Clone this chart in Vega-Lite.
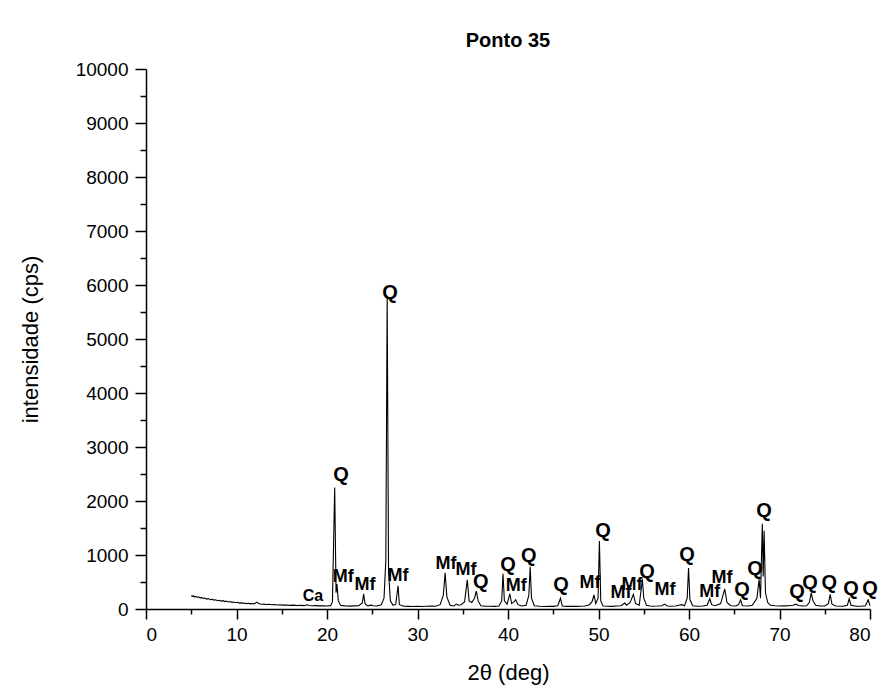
{
  "$schema": "https://vega.github.io/schema/vega-lite/v6.json",
  "autosize": {"type": "none"},
  "width": 724,
  "height": 540,
  "padding": {"left": 146, "top": 69, "right": 15, "bottom": 85},
  "background": "white",
  "title": {"text": "Ponto 35", "fontSize": 20, "fontWeight": "bold", "font": "Liberation Sans", "color": "black", "anchor": "middle", "offset": 9},
  "config": {
    "view": {"stroke": null},
    "font": "Liberation Sans",
    "axis": {"grid": false, "domainColor": "black", "tickColor": "black", "labelColor": "black", "titleColor": "black", "labelFont": "Liberation Sans", "titleFont": "Liberation Sans", "domainWidth": 1.5, "tickWidth": 1.5}
  },
  "resolve": {"axis": {"x": "independent", "y": "independent"}},
  "layer": [
    {
      "data": {"values": [
        {"theta": 5.0, "cps": 250}, {"theta": 5.1, "cps": 232}, {"theta": 5.2, "cps": 246}, {"theta": 5.35, "cps": 226}, {"theta": 5.5, "cps": 234}, {"theta": 5.65, "cps": 216}, {"theta": 5.8, "cps": 226}, {"theta": 6.0, "cps": 203}, {"theta": 6.15, "cps": 214}, {"theta": 6.3, "cps": 194},
        {"theta": 6.5, "cps": 202}, {"theta": 6.7, "cps": 184}, {"theta": 6.9, "cps": 192}, {"theta": 7.1, "cps": 173}, {"theta": 7.3, "cps": 182}, {"theta": 7.5, "cps": 164}, {"theta": 7.7, "cps": 172}, {"theta": 7.9, "cps": 154}, {"theta": 8.1, "cps": 162}, {"theta": 8.3, "cps": 146},
        {"theta": 8.5, "cps": 154}, {"theta": 8.7, "cps": 138}, {"theta": 8.9, "cps": 146}, {"theta": 9.1, "cps": 130}, {"theta": 9.3, "cps": 138}, {"theta": 9.5, "cps": 123}, {"theta": 9.7, "cps": 130}, {"theta": 9.9, "cps": 116}, {"theta": 10.1, "cps": 124}, {"theta": 10.3, "cps": 110},
        {"theta": 10.5, "cps": 118}, {"theta": 10.7, "cps": 104}, {"theta": 10.9, "cps": 111}, {"theta": 11.1, "cps": 99}, {"theta": 11.3, "cps": 106}, {"theta": 11.5, "cps": 95}, {"theta": 11.7, "cps": 101}, {"theta": 11.9, "cps": 96}, {"theta": 12.1, "cps": 112}, {"theta": 12.25, "cps": 128},
        {"theta": 12.4, "cps": 106}, {"theta": 12.6, "cps": 92}, {"theta": 12.8, "cps": 88}, {"theta": 13.0, "cps": 91}, {"theta": 13.3, "cps": 83}, {"theta": 13.6, "cps": 87}, {"theta": 13.9, "cps": 79}, {"theta": 14.2, "cps": 83}, {"theta": 14.5, "cps": 75}, {"theta": 14.8, "cps": 79},
        {"theta": 15.1, "cps": 71}, {"theta": 15.5, "cps": 75}, {"theta": 15.9, "cps": 67}, {"theta": 16.3, "cps": 71}, {"theta": 16.7, "cps": 64}, {"theta": 17.1, "cps": 67}, {"theta": 17.5, "cps": 62}, {"theta": 17.8, "cps": 78}, {"theta": 18.0, "cps": 64}, {"theta": 18.4, "cps": 60},
        {"theta": 18.8, "cps": 62}, {"theta": 19.2, "cps": 57}, {"theta": 19.6, "cps": 60}, {"theta": 20.0, "cps": 56}, {"theta": 20.4, "cps": 62}, {"theta": 20.6, "cps": 130}, {"theta": 20.85, "cps": 2250}, {"theta": 21.0, "cps": 300}, {"theta": 21.1, "cps": 460}, {"theta": 21.25, "cps": 150},
        {"theta": 21.5, "cps": 70}, {"theta": 22.0, "cps": 58}, {"theta": 22.5, "cps": 54}, {"theta": 23.0, "cps": 57}, {"theta": 23.5, "cps": 60}, {"theta": 23.9, "cps": 110}, {"theta": 24.05, "cps": 280}, {"theta": 24.2, "cps": 100}, {"theta": 24.5, "cps": 58}, {"theta": 24.9, "cps": 72},
        {"theta": 25.1, "cps": 60}, {"theta": 25.5, "cps": 56}, {"theta": 26.0, "cps": 80}, {"theta": 26.3, "cps": 200}, {"theta": 26.5, "cps": 900}, {"theta": 26.65, "cps": 5800}, {"theta": 26.8, "cps": 700}, {"theta": 27.0, "cps": 150}, {"theta": 27.3, "cps": 70}, {"theta": 27.6, "cps": 90},
        {"theta": 27.85, "cps": 430}, {"theta": 28.0, "cps": 80}, {"theta": 28.5, "cps": 52}, {"theta": 29.0, "cps": 49}, {"theta": 29.5, "cps": 47}, {"theta": 30.0, "cps": 52}, {"theta": 30.5, "cps": 47}, {"theta": 31.0, "cps": 50}, {"theta": 31.5, "cps": 53}, {"theta": 32.0, "cps": 50},
        {"theta": 32.5, "cps": 80}, {"theta": 32.85, "cps": 250}, {"theta": 33.05, "cps": 670}, {"theta": 33.25, "cps": 220}, {"theta": 33.6, "cps": 70}, {"theta": 34.0, "cps": 55}, {"theta": 34.3, "cps": 90}, {"theta": 34.5, "cps": 70}, {"theta": 34.8, "cps": 80}, {"theta": 35.2, "cps": 130},
        {"theta": 35.5, "cps": 540}, {"theta": 35.7, "cps": 150}, {"theta": 36.0, "cps": 120}, {"theta": 36.3, "cps": 200}, {"theta": 36.5, "cps": 330}, {"theta": 36.7, "cps": 150}, {"theta": 37.0, "cps": 60}, {"theta": 37.5, "cps": 50}, {"theta": 38.0, "cps": 51}, {"theta": 38.5, "cps": 48},
        {"theta": 39.0, "cps": 55}, {"theta": 39.3, "cps": 150}, {"theta": 39.45, "cps": 650}, {"theta": 39.6, "cps": 150}, {"theta": 39.9, "cps": 90}, {"theta": 40.2, "cps": 280}, {"theta": 40.4, "cps": 100}, {"theta": 40.7, "cps": 140}, {"theta": 40.85, "cps": 170}, {"theta": 41.1, "cps": 80},
        {"theta": 41.5, "cps": 55}, {"theta": 42.0, "cps": 70}, {"theta": 42.3, "cps": 250}, {"theta": 42.45, "cps": 780}, {"theta": 42.6, "cps": 200}, {"theta": 42.9, "cps": 60}, {"theta": 43.5, "cps": 50}, {"theta": 44.0, "cps": 47}, {"theta": 44.5, "cps": 51}, {"theta": 45.0, "cps": 48},
        {"theta": 45.5, "cps": 60}, {"theta": 45.8, "cps": 200}, {"theta": 46.0, "cps": 55}, {"theta": 46.5, "cps": 48}, {"theta": 47.0, "cps": 51}, {"theta": 47.5, "cps": 48}, {"theta": 48.0, "cps": 50}, {"theta": 48.5, "cps": 55}, {"theta": 49.0, "cps": 80}, {"theta": 49.3, "cps": 140},
        {"theta": 49.5, "cps": 260}, {"theta": 49.7, "cps": 100}, {"theta": 49.95, "cps": 200}, {"theta": 50.1, "cps": 1260}, {"theta": 50.25, "cps": 150}, {"theta": 50.5, "cps": 55}, {"theta": 51.0, "cps": 50}, {"theta": 51.5, "cps": 48}, {"theta": 52.0, "cps": 55}, {"theta": 52.5, "cps": 60},
        {"theta": 52.9, "cps": 110}, {"theta": 53.1, "cps": 70}, {"theta": 53.5, "cps": 120}, {"theta": 53.85, "cps": 270}, {"theta": 54.1, "cps": 100}, {"theta": 54.5, "cps": 70}, {"theta": 54.85, "cps": 550}, {"theta": 55.0, "cps": 200}, {"theta": 55.3, "cps": 70}, {"theta": 55.7, "cps": 55},
        {"theta": 56.0, "cps": 52}, {"theta": 56.5, "cps": 55}, {"theta": 57.0, "cps": 60}, {"theta": 57.3, "cps": 90}, {"theta": 57.6, "cps": 55}, {"theta": 58.0, "cps": 50}, {"theta": 58.5, "cps": 55}, {"theta": 59.0, "cps": 75}, {"theta": 59.2, "cps": 80}, {"theta": 59.5, "cps": 60},
        {"theta": 59.8, "cps": 200}, {"theta": 59.95, "cps": 760}, {"theta": 60.1, "cps": 180}, {"theta": 60.4, "cps": 60}, {"theta": 61.0, "cps": 52}, {"theta": 61.5, "cps": 55}, {"theta": 62.0, "cps": 70}, {"theta": 62.3, "cps": 190}, {"theta": 62.5, "cps": 80}, {"theta": 62.9, "cps": 60},
        {"theta": 63.5, "cps": 100}, {"theta": 63.95, "cps": 370}, {"theta": 64.2, "cps": 120}, {"theta": 64.6, "cps": 60}, {"theta": 65.2, "cps": 55}, {"theta": 65.5, "cps": 90}, {"theta": 65.7, "cps": 170}, {"theta": 65.9, "cps": 60}, {"theta": 66.5, "cps": 55}, {"theta": 67.0, "cps": 70},
        {"theta": 67.5, "cps": 200}, {"theta": 67.75, "cps": 550}, {"theta": 67.9, "cps": 200}, {"theta": 68.1, "cps": 1580}, {"theta": 68.2, "cps": 600}, {"theta": 68.3, "cps": 1450}, {"theta": 68.45, "cps": 300}, {"theta": 68.7, "cps": 120}, {"theta": 69.0, "cps": 70}, {"theta": 69.5, "cps": 60},
        {"theta": 70.0, "cps": 55}, {"theta": 70.5, "cps": 58}, {"theta": 71.0, "cps": 60}, {"theta": 71.5, "cps": 70}, {"theta": 71.8, "cps": 90}, {"theta": 72.1, "cps": 65}, {"theta": 72.6, "cps": 55}, {"theta": 73.0, "cps": 60}, {"theta": 73.3, "cps": 120}, {"theta": 73.5, "cps": 300},
        {"theta": 73.7, "cps": 150}, {"theta": 74.0, "cps": 70}, {"theta": 74.5, "cps": 55}, {"theta": 75.0, "cps": 55}, {"theta": 75.4, "cps": 100}, {"theta": 75.6, "cps": 270}, {"theta": 75.8, "cps": 90}, {"theta": 76.2, "cps": 55}, {"theta": 77.0, "cps": 52}, {"theta": 77.5, "cps": 70},
        {"theta": 77.7, "cps": 190}, {"theta": 77.9, "cps": 70}, {"theta": 78.5, "cps": 50}, {"theta": 79.0, "cps": 52}, {"theta": 79.5, "cps": 60}, {"theta": 79.8, "cps": 170}, {"theta": 80.0, "cps": 60}
      ]},
      "mark": {"type": "line", "color": "black", "strokeWidth": 1.1},
      "encoding": {
        "x": {"field": "theta", "type": "quantitative", "scale": {"domain": [0, 80], "nice": false},
              "axis": {"orient": "bottom", "values": [0, 10, 20, 30, 40, 50, 60, 70, 80], "format": "d", "tickSize": 10, "labelFontSize": 19, "labelPadding": 6, "title": "2θ (deg)", "titleFontSize": 22, "titleFontWeight": "normal", "titlePadding": 18}},
        "y": {"field": "cps", "type": "quantitative", "scale": {"domain": [0, 10000], "nice": false},
              "axis": {"orient": "left", "values": [0, 1000, 2000, 3000, 4000, 5000, 6000, 7000, 8000, 9000, 10000], "format": "d", "tickSize": 11, "labelFontSize": 19, "labelPadding": 7, "title": "intensidade (cps)", "titleFontSize": 22, "titleFontWeight": "normal", "titlePadding": 33}}
      }
    },
    {
      "data": {"values": [
        {"theta": 18.45, "cps": 241, "label": "Ca"},
        {"theta": 21.55, "cps": 2481, "label": "Q"},
        {"theta": 21.8, "cps": 593, "label": "Mf"},
        {"theta": 24.2, "cps": 444, "label": "Mf"},
        {"theta": 26.96, "cps": 5852, "label": "Q"},
        {"theta": 27.85, "cps": 611, "label": "Mf"},
        {"theta": 33.15, "cps": 833, "label": "Mf"},
        {"theta": 35.36, "cps": 722, "label": "Mf"},
        {"theta": 37.0, "cps": 500, "label": "Q"},
        {"theta": 39.99, "cps": 815, "label": "Q"},
        {"theta": 40.9, "cps": 426, "label": "Mf"},
        {"theta": 42.3, "cps": 981, "label": "Q"},
        {"theta": 45.86, "cps": 444, "label": "Q"},
        {"theta": 49.06, "cps": 481, "label": "Mf"},
        {"theta": 50.5, "cps": 1444, "label": "Q"},
        {"theta": 52.49, "cps": 296, "label": "Mf"},
        {"theta": 53.7, "cps": 444, "label": "Mf"},
        {"theta": 55.36, "cps": 685, "label": "Q"},
        {"theta": 57.35, "cps": 352, "label": "Mf"},
        {"theta": 59.78, "cps": 1000, "label": "Q"},
        {"theta": 62.3, "cps": 315, "label": "Mf"},
        {"theta": 63.65, "cps": 574, "label": "Mf"},
        {"theta": 65.86, "cps": 352, "label": "Q"},
        {"theta": 67.3, "cps": 741, "label": "Q"},
        {"theta": 68.3, "cps": 1815, "label": "Q"},
        {"theta": 71.93, "cps": 315, "label": "Q"},
        {"theta": 73.37, "cps": 481, "label": "Q"},
        {"theta": 75.5, "cps": 481, "label": "Q"},
        {"theta": 77.9, "cps": 370, "label": "Q"},
        {"theta": 80.0, "cps": 370, "label": "Q"}
      ]},
      "mark": {"type": "text", "color": "black", "fontWeight": "bold", "font": "Liberation Sans", "align": "center", "baseline": "middle"},
      "encoding": {
        "x": {"field": "theta", "type": "quantitative", "scale": {"domain": [0, 80], "nice": false},
              "axis": {"orient": "bottom", "values": [5, 15, 25, 35, 45, 55, 65, 75], "tickSize": 5, "labels": false, "domain": false, "title": null}},
        "y": {"field": "cps", "type": "quantitative", "scale": {"domain": [0, 10000], "nice": false},
              "axis": {"orient": "left", "values": [500, 1500, 2500, 3500, 4500, 5500, 6500, 7500, 8500, 9500], "tickSize": 6, "labels": false, "domain": false, "title": null}},
        "text": {"field": "label"},
        "size": {"field": "label", "type": "nominal", "scale": {"domain": ["Q", "Mf", "Ca"], "range": [20, 16, 14]}, "legend": null}
      }
    }
  ]
}
